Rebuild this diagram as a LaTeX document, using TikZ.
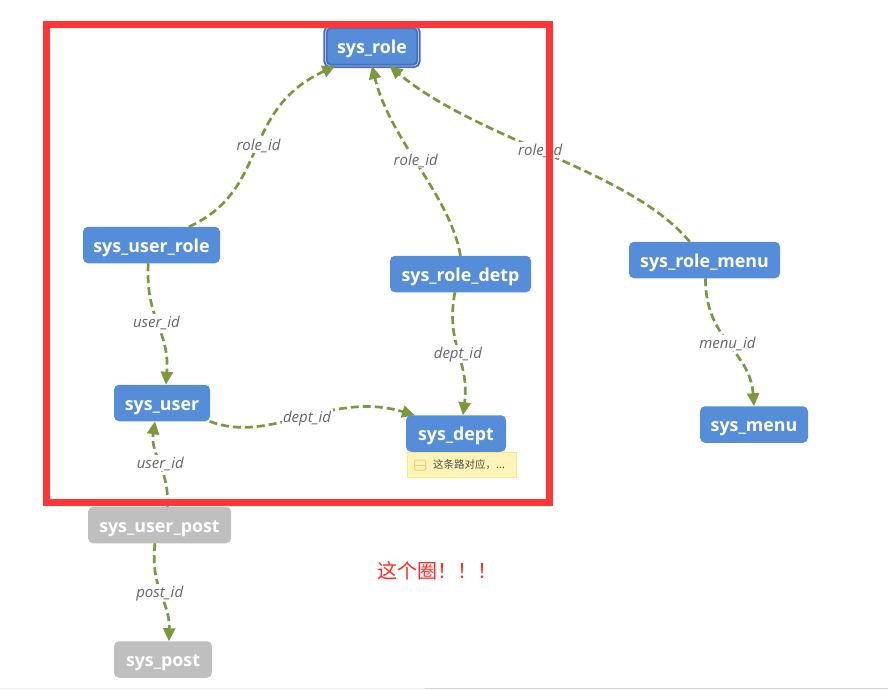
\documentclass[tikz,border=0pt]{standalone}
\usepackage{fontspec}
\setmainfont{Open Sans}
\newfontfamily\cjk{Noto Sans CJK SC}
\usetikzlibrary{arrows.meta}

\definecolor{tableblue}{HTML}{558DD8}
\definecolor{roleline}{HTML}{4A6DBE}
\definecolor{tablegray}{HTML}{BFBFBF}
\definecolor{linkgreen}{HTML}{7D983C}
\definecolor{markred}{HTML}{FF3636}
\definecolor{noteyellow}{HTML}{FFF5B8}
\definecolor{noteline}{HTML}{FBE58F}
\definecolor{iconline}{HTML}{F9C874}

\tikzset{
  table/.style={rectangle, rounded corners=5pt, fill=tableblue, text=white, font=\fontsize{17.8}{20}\selectfont\bfseries, inner sep=0pt, outer sep=0pt, minimum height=36.5pt, text height=14pt, text depth=0pt},
  faded/.style={table, fill=tablegray},
  link/.style={draw=linkgreen, line width=2.7pt, dash pattern=on 8pt off 4pt, -{Triangle[length=13pt,width=12pt]}},
  linklabel/.style={fill=white, text=black!60, inner sep=1.5pt, text height=12pt, text depth=1pt, font=\fontsize{15}{16}\selectfont\itshape}
}

\begin{document}
\begin{tikzpicture}[x=1pt,y=-1pt]
\useasboundingbox (0,0) rectangle (888,689);

\draw[black!7, line width=1pt] (0,688.5) -- (425,688.5);
\draw[black!17, line width=1pt] (425,688.5) -- (888,688.5);

\node[table, minimum width=93pt, minimum height=39pt, text height=13pt, draw=roleline, double=white!50!tableblue, double distance=.8pt, line width=1.8pt] (sysrole) at (372,46.5) {sys\_role};
\node[table, minimum width=137pt] (userrole) at (151.5,245) {sys\_user\_role};
\node[table, minimum width=141pt] (roledetp) at (460.5,274) {sys\_role\_detp};
\node[table, minimum width=151pt] (rolemenu) at (704.5,260) {sys\_role\_menu};
\node[table, minimum width=96pt] (sysuser) at (162,403) {sys\_user};
\node[table, minimum width=100pt] (sysdept) at (456,433.5) {sys\_dept};
\node[table, minimum width=108pt] (sysmenu) at (754,424.5) {sys\_menu};
\node[faded, minimum width=143pt] (userpost) at (159.5,525) {sys\_user\_post};
\node[faded, minimum width=98pt] (syspost) at (163,659.5) {sys\_post};

% note under sys_dept
\node[draw=noteline, fill=noteyellow, minimum width=109pt, minimum height=25pt, inner sep=0pt] (note) at (461.5,464.5) {};
\node[anchor=west, inner sep=0pt, text=black!70, font=\cjk\fontsize{10.5}{12}\selectfont] (notetext) at (433,465) {这条路对应，...};
\node[draw=iconline, fill=noteyellow, line width=1pt, rounded corners=1pt, minimum width=11pt, minimum height=10pt, inner sep=0pt] (noteicon) at (420,465) {};
\draw[iconline, line width=1pt] (noteicon.west) -- (noteicon.east);

\draw[link] (userrole.26) .. controls (270,190) and (240,110) .. node[linklabel, pos=.52] {role\_id} (sysrole.208);
\draw[link] (roledetp.north) .. controls (450,195) and (390,140) .. node[linklabel, pos=.53] {role\_id} (sysrole.south);
\draw[link] (rolemenu.129) .. controls (630,170) and (478,140) .. node[linklabel, pos=.53] {role\_id} (sysrole.-48);
\draw[link] (userrole.-100) .. controls (145,320) and (170,330) .. node[linklabel, pos=.47] {user\_id} (sysuser.78);
\draw[link] (roledetp.253) .. controls (445,345) and (470,360) .. node[linklabel] {dept\_id} (sysdept.69);
\draw[link] (sysuser.-21) .. controls (270,445) and (330,390) .. node[linklabel, pos=.52] {dept\_id} (sysdept.156);
\draw[link] (userpost.67) .. controls (170,470) and (150,455) .. node[linklabel] {user\_id} (sysuser.249);
\draw[link] (userpost.256) .. controls (150,590) and (170,600) .. node[linklabel, pos=.47] {post\_id} (syspost.72);
\draw[link] (rolemenu.-87) .. controls (705,340) and (750,350) .. node[linklabel, pos=.49] {menu\_id} (sysmenu.north);

% the red frame
\draw[markred, line width=7pt] (46.5,24) rectangle (549.5,502.5);
\node[anchor=west, inner sep=0pt, text=markred!70!red, font=\cjk\fontsize{20}{22}\selectfont] (remark) at (377,571) {这个圈！！！};
\end{tikzpicture}
\end{document}
